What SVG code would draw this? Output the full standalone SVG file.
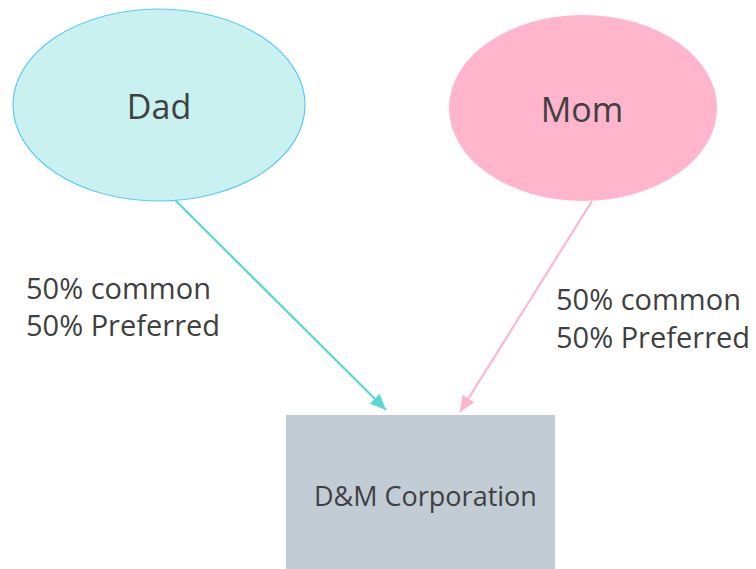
<svg xmlns="http://www.w3.org/2000/svg" width="756" height="569" viewBox="0 0 756 569">
  <style>
    .t { font-family: "Open Sans", "Liberation Sans", sans-serif; fill: #404040; }
    .big { font-size: 34px; }
    .lbl { font-size: 29px; }
    .box { font-size: 27px; }
    .edge { fill: none; stroke-width: 2.2; }
  </style>
  <defs>
    <marker id="arrTeal" markerUnits="userSpaceOnUse" markerWidth="18" markerHeight="14" refX="16" refY="7" orient="auto">
      <path d="M0,0 L16,7 L0,14 Z" fill="#5cd6d0"/>
    </marker>
    <marker id="arrPink" markerUnits="userSpaceOnUse" markerWidth="18" markerHeight="14" refX="16" refY="7" orient="auto">
      <path d="M0,0 L16,7 L0,14 Z" fill="#ffb6cc"/>
    </marker>
  </defs>
  <rect width="756" height="569" fill="#ffffff"/>
  <g id="connectors">
    <line class="edge" x1="174" y1="199" x2="386" y2="410" stroke="#5cd6d0" marker-end="url(#arrTeal)"/>
    <line class="edge" x1="592" y1="201" x2="460" y2="412" stroke="#ffb6cc" marker-end="url(#arrPink)"/>
  </g>
  <g id="dad">
    <ellipse cx="159" cy="105" rx="146" ry="96" fill="#c8f1f0" stroke="#5ccaf7" stroke-width="1.2"/>
    <text class="t big" x="159" y="119" text-anchor="middle">Dad</text>
  </g>
  <g id="mom">
    <ellipse cx="583" cy="108" rx="134" ry="93" fill="#ffb6cc"/>
    <text class="t big" x="582" y="122" text-anchor="middle">Mom</text>
  </g>
  <g id="corp">
    <rect x="286" y="415" width="269" height="160" fill="#c1ccd5"/>
    <text class="t box" x="314" y="506">D&amp;M Corporation</text>
  </g>
  <g id="labels">
    <text class="t lbl" x="26" y="299">50% common</text>
    <text class="t lbl" x="26" y="336">50% Preferred</text>
    <text class="t lbl" x="556" y="310">50% common</text>
    <text class="t lbl" x="556" y="348">50% Preferred</text>
  </g>
</svg>
